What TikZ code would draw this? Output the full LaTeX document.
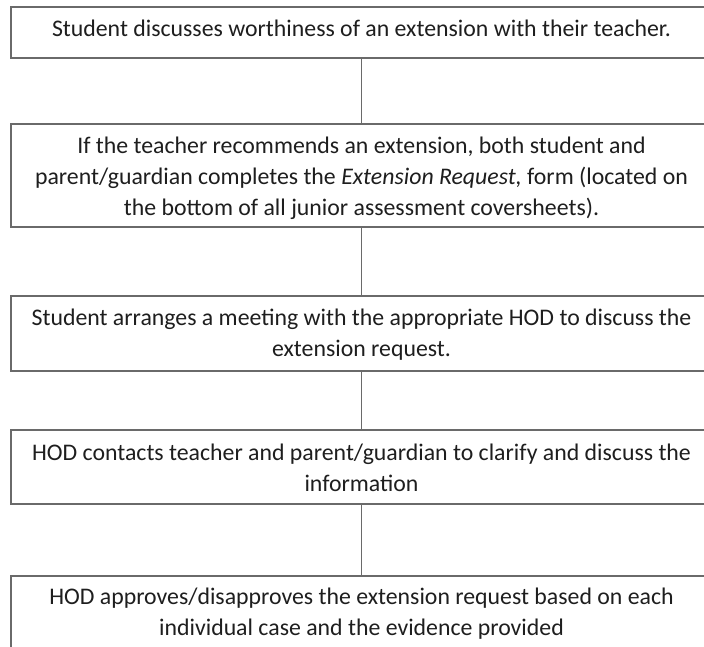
\documentclass[tikz,border=0pt]{standalone}
\usepackage{fontspec}
\setmainfont{Carlito}
\definecolor{boxline}{HTML}{6A6A6A}
\definecolor{txt}{HTML}{1E1E1E}
\begin{document}
\begin{tikzpicture}[x=1pt,y=-1pt,
  stepbox/.style={draw=boxline,line width=1.8pt,inner sep=0pt},
  steptext/.style={anchor=base,align=center,inner sep=0pt,text=txt,
    font=\fontsize{23.8}{31}\selectfont},
  link/.style={draw=boxline,line width=1.8pt}]
\useasboundingbox[fill=white] (0,0) rectangle (704,646);
\node[stepbox,minimum width=701pt,minimum height=51pt] (b1) at (361.5,32.5) {};
\node[stepbox,minimum width=701pt,minimum height=103pt] (b2) at (361.5,175.5) {};
\node[stepbox,minimum width=701pt,minimum height=75pt] (b3) at (361.5,333.5) {};
\node[stepbox,minimum width=701pt,minimum height=74pt] (b4) at (361.5,467) {};
\node[stepbox,minimum width=701pt,minimum height=124pt] (b5) at (361.5,638) {};
\node[steptext] (t1) at (361.5,36) {Student discusses worthiness of an extension with their teacher.};
\node[steptext] (t2) at (361.5,215) {If the teacher recommends an extension, both student and\\parent/guardian completes the \textit{Extension Request,} form (located on\\the bottom of all junior assessment coversheets).};
\node[steptext] (t3) at (361.5,356) {Student arranges a meeting with the appropriate HOD to discuss the\\extension request.};
\node[steptext] (t4) at (361.5,491) {HOD contacts teacher and parent/guardian to clarify and discuss the\\information};
\node[steptext] (t5) at (361.5,635) {HOD approves/disapproves the extension request based on each\\individual case and the evidence provided};
\draw[link] (b1) -- (b2);
\draw[link] (b2) -- (b3);
\draw[link] (b3) -- (b4);
\draw[link] (b4) -- (b5);
\end{tikzpicture}
\end{document}
